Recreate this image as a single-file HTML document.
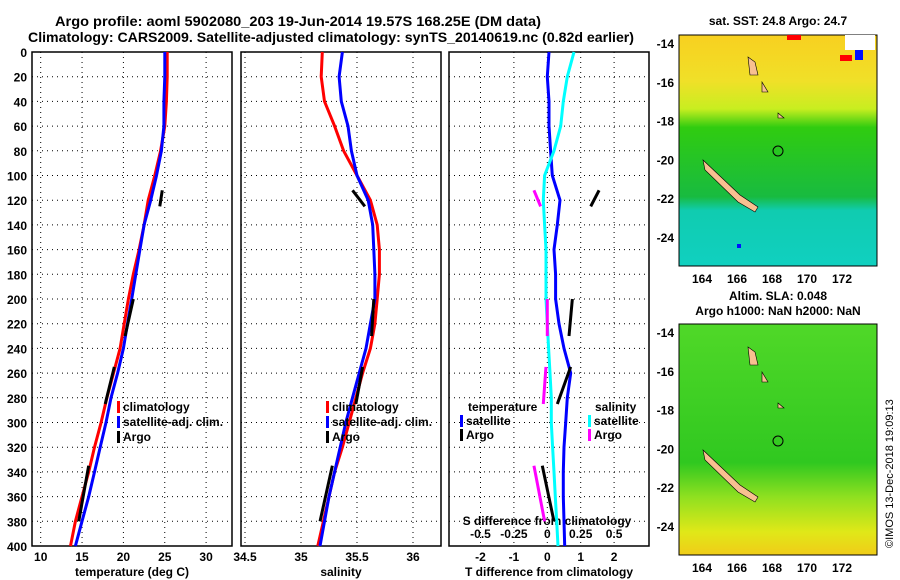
<!DOCTYPE html>
<html><head><meta charset="utf-8"><style>
body{margin:0;background:#fff;}
svg{display:block;font-family:"Liberation Sans",sans-serif;font-weight:bold;}
</style></head><body>
<svg id="c" width="900" height="580" viewBox="0 0 900 580">
<defs>
<linearGradient id="sstg" x1="0" y1="0" x2="0" y2="1">
<stop offset="0" stop-color="#f8d020"/><stop offset="0.2" stop-color="#f0e028"/><stop offset="0.32" stop-color="#c8ee20"/><stop offset="0.4" stop-color="#30cc10"/><stop offset="0.7" stop-color="#18bb40"/><stop offset="0.76" stop-color="#10ccb0"/><stop offset="1" stop-color="#10d0c0"/></linearGradient>
<linearGradient id="slag" x1="0" y1="0" x2="0" y2="1">
<stop offset="0" stop-color="#50d828"/><stop offset="0.6" stop-color="#30c820"/><stop offset="0.75" stop-color="#90e020"/><stop offset="0.9" stop-color="#e0e818"/><stop offset="1" stop-color="#f0cc18"/></linearGradient>
</defs>
<text x="55" y="26" font-size="14" textLength="486" lengthAdjust="spacingAndGlyphs">Argo profile: aoml 5902080_203 19-Jun-2014 19.57S 168.25E (DM data)</text>
<text x="28" y="42" font-size="14" textLength="606" lengthAdjust="spacingAndGlyphs">Climatology: CARS2009. Satellite-adjusted climatology: synTS_20140619.nc (0.82d earlier)</text>
<g id="plots"></g>
<g>
<text x="778" y="25" font-size="12" text-anchor="middle">sat. SST: 24.8 Argo: 24.7</text>
<rect x="679" y="35" width="198" height="231" fill="url(#sstg)" stroke="#000"/>
<rect x="845" y="35" width="30" height="15" fill="#fff"/><rect x="855" y="50" width="8" height="10" fill="#0010ff"/><rect x="840" y="55" width="12" height="6" fill="#ff0000"/><rect x="787" y="35" width="14" height="5" fill="#ff0000"/><rect x="737" y="244" width="4" height="4" fill="#0010ff"/>
<path d="M703,160 L740,195 L758,207 L755,212 L738,202 L705,170 Z" fill="#f8c090" stroke="#000" stroke-width="0.6"/>
<circle cx="778" cy="151" r="5" fill="none" stroke="#000"/>
<path d="M748,57 L755,62 L758,75 L750,75 Z M762,82 L768,92 L762,92 Z M778,113 L784,118 L778,118 Z" fill="#f8c090" stroke="#000" stroke-width="0.6"/>
</g>
<g>
<text x="778" y="300" font-size="12" text-anchor="middle">Altim. SLA: 0.048</text>
<text x="778" y="315" font-size="12" text-anchor="middle">Argo h1000: NaN h2000: NaN</text>
<rect x="679" y="324" width="198" height="231" fill="url(#slag)" stroke="#000"/>
<path d="M703,450 L740,485 L758,497 L755,502 L738,492 L705,460 Z" fill="#f8c090" stroke="#000" stroke-width="0.6"/>
<circle cx="778" cy="441" r="5" fill="none" stroke="#000"/>
<path d="M748,347 L755,352 L758,365 L750,365 Z M762,372 L768,382 L762,382 Z M778,403 L784,408 L778,408 Z" fill="#f8c090" stroke="#000" stroke-width="0.6"/>
</g>
<g id="maxes"></g>
<text x="0" y="0" font-size="11" font-weight="normal" transform="translate(893,548) rotate(-90)">©IMOS 13-Dec-2018 19:09:13</text>
</svg>
<script>
const depths=[0,20,40,60,80,100,120,140,160,180,200,220,240,260,280,300,320,340,360,380,400];
const tClim=[25.3,25.3,25.2,25.0,24.5,23.8,23.0,22.5,21.9,21.2,20.6,20.1,19.6,18.8,18.0,17.3,16.5,15.8,15.0,14.2,13.6];
const tSat=[25.0,25.0,24.9,24.9,24.6,24.0,23.3,22.5,22.0,21.5,21.0,20.5,20.0,19.3,18.5,17.9,17.2,16.5,15.8,15.0,14.2];
const sClim=[35.19,35.18,35.21,35.30,35.38,35.50,35.62,35.68,35.70,35.70,35.68,35.66,35.62,35.55,35.49,35.43,35.37,35.30,35.25,35.20,35.15];
const sSat=[35.37,35.34,35.36,35.42,35.45,35.50,35.60,35.64,35.65,35.66,35.66,35.62,35.58,35.52,35.46,35.40,35.35,35.30,35.25,35.21,35.17];
const dtSat=[0.05,0.0,0.05,0.05,0.1,0.15,0.38,0.3,0.2,0.25,0.25,0.35,0.5,0.7,0.6,0.55,0.5,0.48,0.48,0.5,0.52];
const dsSat=[0.2,0.15,0.12,0.1,0.05,-0.02,-0.03,-0.02,-0.01,-0.01,-0.01,0,0.01,0.02,0.03,0.03,0.04,0.05,0.06,0.07,0.08];
const argoDepth=[112,125,200,230,255,285,335,380];
const argoT=[24.7,24.4,21.2,20.2,18.9,17.8,15.8,14.6];
const argoS=[35.46,35.57,35.65,35.63,35.55,35.49,35.28,35.17];
const argoDT=[1.55,1.3,0.75,0.65,0.7,0.3,-0.15,0.2];
const argoDS=[-0.1,-0.05,0.0,0.0,-0.01,-0.03,-0.1,-0.02];
const NS="http://www.w3.org/2000/svg";
const Y=d=>52+d*1.235;
const xT=v=>40.7+(v-10)*8.27, xS=v=>245+(v-34.5)*112, xDT=v=>547.3+v*33.4, xDS=v=>547.3+v*133.6;
const g=document.getElementById('plots');
function el(t,a,p){const e=document.createElementNS(NS,t);for(const k in a)e.setAttribute(k,a[k]);(p||g).appendChild(e);return e;}
function txt(x,y,s,anchor,size){const e=el('text',{x:x,y:y,'font-size':size||12,'text-anchor':anchor||'middle'});e.textContent=s;return e;}
function line(xs,fx,ds,col,w){let p='';xs.forEach((v,i)=>{p+=(i?'L':'M')+fx(v).toFixed(1)+','+Y(ds[i]).toFixed(1);});return el('path',{d:p,fill:'none',stroke:col,'stroke-width':w||3});}
function argo(xs,fx,col){for(let i=0;i<xs.length;i+=2){const e=el('path',{d:'M'+fx(xs[i])+','+Y(argoDepth[i])+'L'+fx(xs[i+1])+','+Y(argoDepth[i+1]),stroke:col,'stroke-width':3,fill:'none'});

}}
const panels=[{x0:32,x1:232,ticks:[10,15,20,25,30],f:xT,lab:'temperature (deg C)'},{x0:241,x1:441,ticks:[34.5,35,35.5,36],f:xS,lab:'salinity'},{x0:449,x1:649,ticks:[-2,-1,0,1,2],f:xDT,lab:'T difference from climatology'}];
panels.forEach((P,pi)=>{
 P.ticks.forEach(t=>{el('line',{x1:P.f(t),x2:P.f(t),y1:52,y2:546,stroke:'#000','stroke-dasharray':'1,4','stroke-width':1});txt(P.f(t),561,String(t));});
 for(let d=20;d<400;d+=20)el('line',{x1:P.x0,x2:P.x1,y1:Y(d),y2:Y(d),stroke:'#000','stroke-dasharray':'1,4','stroke-width':1});
 const r=el('rect',{x:P.x0,y:52,width:P.x1-P.x0,height:494,fill:'none',stroke:'#000','stroke-width':1.5});
 
 
 const l=txt((P.x0+P.x1)/2,576,P.lab);
 
 
});
for(let d=0;d<=400;d+=20)txt(27,Y(d)+5,String(d),'end');
[0,-0.5,-0.25,0.25,0.5].forEach(s=>{txt(xDS(s),538,s===0?'0':String(s));});
txt(547,525,'S difference from climatology');
let e;
e=line(tClim,xT,depths,'#f00');
e=line(tSat,xT,depths,'#00f');
argo(argoT,xT,'#000');
e=line(sClim,xS,depths,'#f00');
e=line(sSat,xS,depths,'#00f');
argo(argoS,xS,'#000');
e=line(dtSat,xDT,depths,'#00f');
e=line(dsSat,xDS,depths,'#0ff');
argo(argoDT,xDT,'#000');argo(argoDS,xDS,'#f0f');
function leg(x,y,col,s){el('rect',{x:x,y:y-10,width:3,height:12,fill:col});const t=txt(x+6,y,s,'start');}
[[117,'#f00','climatology'],[117,'#00f','satellite-adj. clim.'],[117,'#000','Argo']].forEach((a,i)=>leg(a[0],411+i*15,a[1],a[2]));
[[326,'#f00','climatology'],[326,'#00f','satellite-adj. clim.'],[326,'#000','Argo']].forEach((a,i)=>leg(a[0],411+i*15,a[1],a[2]));
txt(468,411,'temperature','start');txt(595,411,'salinity','start');
leg(460,425,'#00f','satellite');leg(460,439,'#000','Argo');leg(588,425,'#0ff','satellite');leg(588,439,'#f0f','Argo');
// map axes
const m=document.getElementById('maxes');
function mtxt(x,y,s,a){const t=document.createElementNS(NS,'text');t.setAttribute('x',x);t.setAttribute('y',y);t.setAttribute('font-size',12);t.setAttribute('text-anchor',a);t.textContent=s;m.appendChild(t);}
[[35,43],[324,332]].forEach(([top,lat14])=>{
 [-14,-16,-18,-20,-22,-24].forEach((la,i)=>mtxt(674,lat14+i*38.8+5,String(la),'end'));
 [164,166,168,170,172].forEach((lo,i)=>mtxt(702+i*35,top+231+17,String(lo),'middle'));
});
</script>
</body></html>
